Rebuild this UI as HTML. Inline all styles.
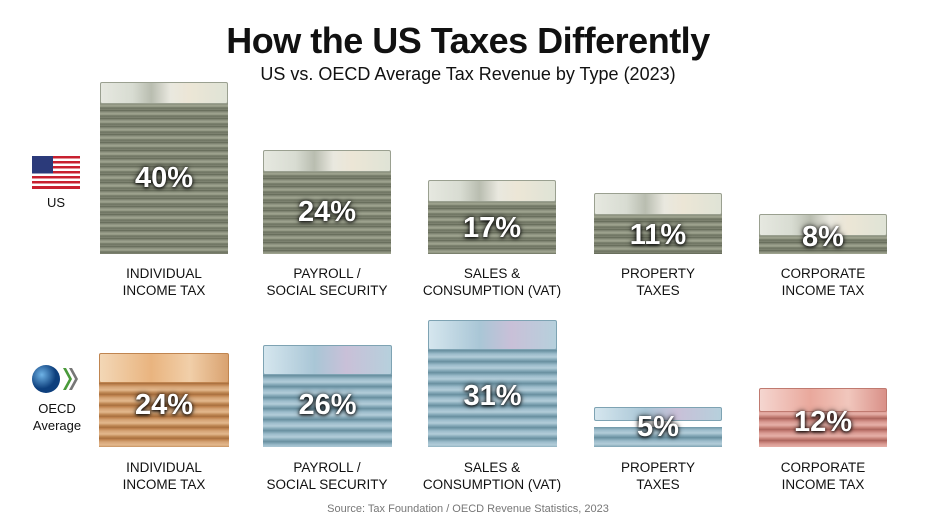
<!DOCTYPE html>
<html><head><meta charset="utf-8"><style>
*{margin:0;padding:0;box-sizing:border-box}
body{width:936px;height:522px;background:#fff;position:relative;overflow:hidden;font-family:"Liberation Sans",sans-serif;color:#111}
.t{position:absolute;left:0;width:936px;text-align:center}
.s{position:absolute;}
.face{position:absolute;left:0;right:0;top:0;height:22px;border-radius:2px}
.body{position:absolute;left:0;right:0;top:20px;bottom:0}
.us .face{background:linear-gradient(90deg,#e6e8e0 0%,#d8dcd2 25%,#b9bdb0 40%,#e9e8df 55%,#ece6d6 70%,#dfe3d6 100%);border:1px solid #9aa090}
.us .body{background:repeating-linear-gradient(180deg,#5e6452 0px,#8a8f7c 2px,#a2a793 4px,#6d7361 6px,#7f8472 8px)}
.o .body{background:repeating-linear-gradient(180deg,#b87a45 0px,#d6a577 3px,#e3b88d 6px,#b9804c 9px,#a86f3e 11px)}
.o .face{background:linear-gradient(90deg,#f3d7b6,#e9b47f 40%,#f1cfa9 70%,#d9a270);border:1px solid #c08550}
.b .body{background:repeating-linear-gradient(180deg,#6e95a6 0px,#9dbccb 3px,#b3cdd9 6px,#7ea3b3 9px,#668c9c 11px)}
.b .face{background:linear-gradient(90deg,#d5e6ee,#a9c6d6 40%,#c9c0d8 65%,#b6d0dc);border:1px solid #7ea3b3}
.r .body{background:repeating-linear-gradient(180deg,#b86e66 0px,#d99a92 3px,#e6b0a8 6px,#c27c72 9px,#a8625a 11px)}
.r .face{background:linear-gradient(90deg,#f5d6d0,#e9a89c 40%,#f1c7bd 70%,#d99088);border:1px solid #c07a70}
.p{position:absolute;left:0;right:0;text-align:center;color:#fff;font-weight:bold;font-size:29px;text-shadow:0 0 6px rgba(0,0,0,.8),0 1px 3px #000}
.l{position:absolute;width:170px;text-align:center;font-size:13.5px;line-height:17px;color:#111}
</style></head><body>
<div class="t" style="top:20px;font-size:36px;font-weight:bold;letter-spacing:-0.5px">How the US Taxes Differently</div>
<div class="t" style="top:64px;font-size:18px">US vs. OECD Average Tax Revenue by Type (2023)</div>

<!-- US flag -->
<svg class="s" style="left:32px;top:156px" width="48" height="33" viewBox="0 0 48 33">
<rect width="48" height="33" fill="#fff"/>
<g fill="#c8202f"><rect y="0" width="48" height="2.5"/><rect y="5" width="48" height="2.5"/><rect y="10" width="48" height="2.5"/><rect y="15" width="48" height="2.5"/><rect y="20" width="48" height="2.5"/><rect y="25" width="48" height="2.5"/><rect y="30" width="48" height="3"/></g>
<rect width="21" height="17.5" fill="#2b3a7a"/></svg>
<div class="s" style="left:30px;top:195px;width:52px;text-align:center;font-size:13px">US</div>

<!-- OECD logo -->
<svg class="s" style="left:31px;top:364px" width="48" height="32" viewBox="0 0 48 32">
<defs><radialGradient id="g" cx="35%" cy="35%"><stop offset="0" stop-color="#6fb3e6"/><stop offset="1" stop-color="#0d3f7d"/></radialGradient></defs>
<circle cx="15" cy="15" r="14" fill="url(#g)"/>
<path d="M32 4 l6 11 -6 11 h3 l6-11 -6-11z" fill="#4a9a3a"/><path d="M38 4 l6 11 -6 11 h3 l6-11 -6-11z" fill="#777"/></svg>
<div class="s" style="left:22px;top:400px;width:70px;text-align:center;font-size:13px;line-height:17px">OECD<br>Average</div>

<!-- US stacks -->
<div class="s us" style="left:100px;top:82px;width:128px;height:172px"><div class="body"></div><div class="face"></div><div class="p" style="top:80px">40%</div></div>
<div class="s us" style="left:263px;top:150px;width:128px;height:104px"><div class="body"></div><div class="face"></div><div class="p" style="top:46px">24%</div></div>
<div class="s us" style="left:428px;top:180px;width:128px;height:74px"><div class="body"></div><div class="face"></div><div class="p" style="top:32px">17%</div></div>
<div class="s us" style="left:594px;top:193px;width:128px;height:61px"><div class="body"></div><div class="face"></div><div class="p" style="top:26px">11%</div></div>
<div class="s us" style="left:759px;top:214px;width:128px;height:40px"><div class="body"></div><div class="face"></div><div class="p" style="top:7px">8%</div></div>

<div class="l" style="left:79px;top:265px">INDIVIDUAL<br>INCOME TAX</div>
<div class="l" style="left:242px;top:265px">PAYROLL /<br>SOCIAL SECURITY</div>
<div class="l" style="left:407px;top:265px">SALES &amp;<br>CONSUMPTION (VAT)</div>
<div class="l" style="left:573px;top:265px">PROPERTY<br>TAXES</div>
<div class="l" style="left:738px;top:265px">CORPORATE<br>INCOME TAX</div>

<!-- OECD stacks -->
<div class="s o" style="left:99px;top:353px;width:130px;height:94px"><div class="body"></div><div class="face" style="height:30px"></div><div class="p" style="top:36px">24%</div></div>
<div class="s b" style="left:263px;top:345px;width:129px;height:102px"><div class="body"></div><div class="face" style="height:30px"></div><div class="p" style="top:44px">26%</div></div>
<div class="s b" style="left:428px;top:320px;width:129px;height:127px"><div class="body"></div><div class="face" style="height:30px"></div><div class="p" style="top:60px">31%</div></div>
<div class="s b" style="left:594px;top:407px;width:128px;height:40px"><div class="body"></div><div class="face" style="height:14px"></div><div class="p" style="top:4px">5%</div></div>
<div class="s r" style="left:759px;top:388px;width:128px;height:59px"><div class="body"></div><div class="face" style="height:24px"></div><div class="p" style="top:18px">12%</div></div>

<div class="l" style="left:79px;top:459px">INDIVIDUAL<br>INCOME TAX</div>
<div class="l" style="left:242px;top:459px">PAYROLL /<br>SOCIAL SECURITY</div>
<div class="l" style="left:407px;top:459px">SALES &amp;<br>CONSUMPTION (VAT)</div>
<div class="l" style="left:573px;top:459px">PROPERTY<br>TAXES</div>
<div class="l" style="left:738px;top:459px">CORPORATE<br>INCOME TAX</div>

<div class="t" style="top:503px;font-size:11px;color:#777">Source: Tax Foundation / OECD Revenue Statistics, 2023</div>
</body></html>
